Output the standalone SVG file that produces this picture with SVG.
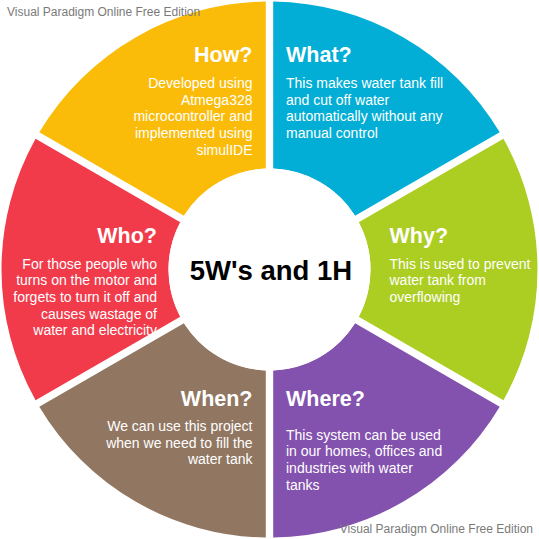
<svg xmlns="http://www.w3.org/2000/svg" xmlns:xlink="http://www.w3.org/1999/xlink" width="539" height="539" viewBox="0 0 539 539">
<style>
.t{font-family:"Liberation Sans",Arial,sans-serif;fill:#fff;font-weight:bold;font-size:21.5px}
.b{font-family:"Liberation Sans",Arial,sans-serif;fill:#fff;font-size:14px}
.r{text-anchor:end}
.wm{font-family:"Liberation Sans",Arial,sans-serif;fill:#7a7a7a;font-size:12px}
</style>
<defs>
<path id="sector" d="M273.2,1.53 A268,268 0 0 1 499.72,132.31 L355.06,215.83 A101,101 0 0 0 273.2,168.57 Z"/>
</defs>
<rect width="539" height="539" fill="#fff"/>
<g id="what">
<use xlink:href="#sector" href="#sector" fill="#02AED5"/>
<text class="t" x="286" y="62">What?</text>
<text class="b" x="286" y="88">This makes water tank fill</text>
<text class="b" x="286" y="104.7">and cut off water</text>
<text class="b" x="286" y="121.4">automatically without any</text>
<text class="b" x="286" y="138.1">manual control</text>
</g>
<g id="why">
<use xlink:href="#sector" href="#sector" fill="#ACCD22" transform="rotate(60 269.5 269.5)"/>
<text class="t" x="389.5" y="243">Why?</text>
<text class="b" x="389.5" y="268.5">This is used to prevent</text>
<text class="b" x="389.5" y="285.2">water tank from</text>
<text class="b" x="389.5" y="301.9">overflowing</text>
</g>
<g id="where">
<use xlink:href="#sector" href="#sector" fill="#8351AE" transform="rotate(120 269.5 269.5)"/>
<text class="t" x="286" y="406">Where?</text>
<text class="b" x="286" y="439.5">This system can be used</text>
<text class="b" x="286" y="456.2">in our homes, offices and</text>
<text class="b" x="286" y="472.9">industries with water</text>
<text class="b" x="286" y="489.6">tanks</text>
</g>
<g id="who">
<use xlink:href="#sector" href="#sector" fill="#F13B4B" transform="rotate(240 269.5 269.5)"/>
<text class="t r" x="157" y="243">Who?</text>
<text class="b r" x="157" y="268.5">For those people who</text>
<text class="b r" x="157" y="285.2">turns on the motor and</text>
<text class="b r" x="157" y="301.9">forgets to turn it off and</text>
<text class="b r" x="157" y="318.6">causes wastage of</text>
<text class="b r" x="157" y="335.3">water and electricity</text>
</g>
<g id="when">
<use xlink:href="#sector" href="#sector" fill="#917762" transform="rotate(180 269.5 269.5)"/>
<text class="t r" x="252.5" y="406">When?</text>
<text class="b r" x="252.5" y="431">We can use this project</text>
<text class="b r" x="252.5" y="447.7">when we need to fill the</text>
<text class="b r" x="252.5" y="464.4">water tank</text>
</g>
<g id="how">
<use xlink:href="#sector" href="#sector" fill="#FABC09" transform="rotate(300 269.5 269.5)"/>
<text class="t r" x="252.5" y="62">How?</text>
<text class="b r" x="252.5" y="88">Developed using</text>
<text class="b r" x="252.5" y="104.7">Atmega328</text>
<text class="b r" x="252.5" y="121.4">microcontroller and</text>
<text class="b r" x="252.5" y="138.1">implemented using</text>
<text class="b r" x="252.5" y="154.8">simulIDE</text>
</g>
<g id="center">
<circle cx="269.5" cy="269.5" r="101" fill="#fff"/>
<text x="271" y="279.5" text-anchor="middle" font-family="'Liberation Sans',Arial,sans-serif" font-weight="bold" font-size="27.5" fill="#000">5W's and 1H</text>
</g>
<g id="connectors"/>
<text class="wm" x="7" y="16">Visual Paradigm Online Free Edition</text>
<text class="wm" x="533" y="533" text-anchor="end">Visual Paradigm Online Free Edition</text>
</svg>
